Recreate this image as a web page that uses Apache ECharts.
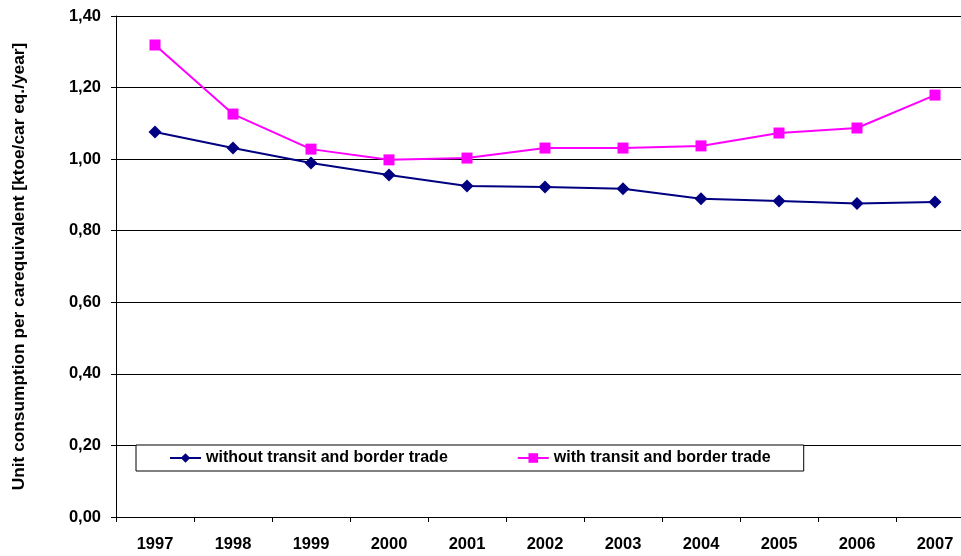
<!DOCTYPE html>
<html>
<head>
<meta charset="utf-8">
<style>
  html, body { margin: 0; padding: 0; background: #fff; }
  #chart { width: 961px; height: 556px; }
</style>
<script src="https://cdn.jsdelivr.net/npm/echarts@6/dist/echarts.min.js"></script>
</head>
<body>
<div id="chart"></div>
<script>
// years on the category axis
const years = ["1997", "1998", "1999", "2000", "2001", "2002", "2003", "2004", "2005", "2006", "2007"];

// ktoe per car equivalent per year
const withoutTransit = [1.076, 1.031, 0.989, 0.956, 0.925, 0.922, 0.917, 0.889, 0.883, 0.876, 0.880];
const withTransit = [1.319, 1.126, 1.028, 0.998, 1.003, 1.031, 1.031, 1.037, 1.073, 1.087, 1.179];

const seriesNames = ["without transit and border trade", "with transit and border trade"];
const yAxisTitle = "Unit consumption per carequivalent [ktoe/car eq./year]";

const font = "Liberation Sans, Arial, sans-serif";

const chart = echarts.init(document.getElementById("chart"), null, { renderer: "canvas" });

chart.setOption({
  animation: false,
  backgroundColor: "#fff",
  // plot runs past the right edge of the picture, like the original crop
  grid: { left: 116, top: 16, width: 858, height: 501, containLabel: false, outerBoundsMode: "none" },
  legend: {
    left: 136,
    top: 445,
    orient: "horizontal",
    backgroundColor: "#fff",
    borderColor: "#000",
    borderWidth: 1,
    padding: [5, 33, 5, 33],
    itemGap: 69,
    itemWidth: 31,
    itemHeight: 12,
    textStyle: { fontFamily: font, fontWeight: "bold", fontSize: 16, color: "#000" },
    data: seriesNames
  },
  xAxis: {
    type: "category",
    data: years,
    boundaryGap: true,
    axisLine: { lineStyle: { color: "#000", width: 1 } },
    axisTick: { show: true, inside: false, length: 5, lineStyle: { color: "#000" } },
    axisLabel: { margin: 19, color: "#000", fontFamily: font, fontWeight: "bold", fontSize: 16.5 },
    splitLine: { show: false }
  },
  yAxis: {
    type: "value",
    min: 0,
    max: 1.4,
    interval: 0.2,
    name: yAxisTitle,
    nameLocation: "middle",
    nameRotate: 90,
    nameGap: 88,
    nameTextStyle: { color: "#000", fontFamily: font, fontWeight: "bold", fontSize: 17.3 },
    axisLine: { show: true, lineStyle: { color: "#000", width: 1 } },
    axisTick: { show: true, inside: false, length: 5, lineStyle: { color: "#000" } },
    axisLabel: {
      margin: 15,
      color: "#000",
      fontFamily: font,
      fontWeight: "bold",
      fontSize: 16.5,
      formatter: (v) => v.toFixed(2).replace(".", ",")
    },
    splitLine: { show: true, lineStyle: { color: "#000", width: 1 } }
  },
  series: [
    {
      name: seriesNames[0],
      type: "line",
      data: withoutTransit,
      symbol: "diamond",
      symbolSize: 13,
      itemStyle: { color: "#000080" },
      lineStyle: { color: "#000080", width: 2 }
    },
    {
      name: seriesNames[1],
      type: "line",
      data: withTransit,
      symbol: "rect",
      symbolSize: 11,
      itemStyle: { color: "#ff00ff" },
      lineStyle: { color: "#ff00ff", width: 2 }
    }
  ]
});
</script>
</body>
</html>
